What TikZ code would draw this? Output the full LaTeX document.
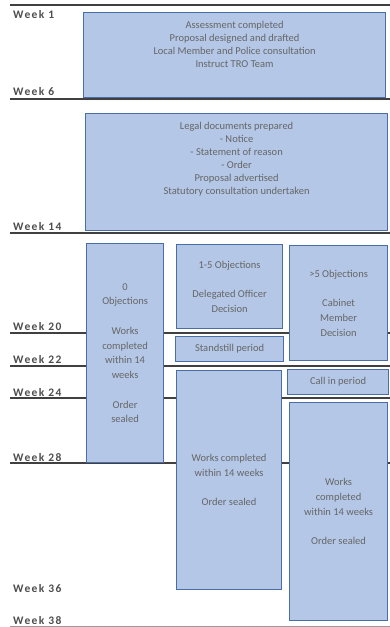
\documentclass[tikz,border=0pt]{standalone}
\usepackage{fontspec}
\setmainfont{Carlito}
\usetikzlibrary{positioning}
\definecolor{stagefill}{HTML}{B4C7E7}
\definecolor{stageline}{HTML}{4A6DA5}
\definecolor{stagetext}{HTML}{666666}
\definecolor{weektext}{HTML}{4D4D4D}
\definecolor{ruleline}{HTML}{404040}
\tikzset{%
	stage/.style    = {draw=stageline, fill=stagefill, line width=1.2pt, rectangle, anchor=north west, inner sep=2pt, align=center, text=stagetext, font=\fontsize{10.5}{13}\selectfont},
	loose/.style    = {font=\fontsize{10.5}{14.75}\selectfont}, % wider line spacing
	week/.style     = {anchor=base west, inner sep=0pt, text=weektext, font=\fontsize{11.5}{13}\selectfont\bfseries\addfontfeature{LetterSpace=12}},
	rule/.style     = {draw=ruleline, line width=1.3pt},
	lastrule/.style = {draw=gray!80, line width=1pt},
}
\begin{document}
\begin{tikzpicture}[x=1pt,y=-1pt]
	\useasboundingbox (0,0) rectangle (390,627);
	% week rules
	\coordinate (r1) at (10,5);    \coordinate (r1e) at (390,5);
	\coordinate (r6) at (10,99);   \coordinate (r6e) at (390,99);
	\coordinate (r14) at (10,233); \coordinate (r14e) at (390,233);
	\coordinate (r20) at (10,333); \coordinate (r20e) at (390,333);
	\coordinate (r22) at (10,366); \coordinate (r22e) at (390,366);
	\coordinate (r24) at (10,398); \coordinate (r24e) at (390,398);
	\coordinate (r28) at (10,463); \coordinate (r28e) at (390,463);
	\coordinate (r38) at (10,626); \coordinate (r38e) at (390,626);
	\draw[rule] (r1) -- (r1e);
	\draw[rule] (r6) -- (r6e);
	\draw[rule] (r14) -- (r14e);
	\draw[rule] (r20) -- (r20e);
	\draw[rule] (r22) -- (r22e);
	\draw[rule] (r24) -- (r24e);
	\draw[rule] (r28) -- (r28e);
	\draw[lastrule] (r38) -- (r38e);
	
	\node [week] (wk1) at (13,18.5) {Week 1};
	\node [week] (wk6) at (13,95) {Week 6};
	\node [week] (wk14) at (13,230) {Week 14};
	\node [week] (wk20) at (13,330) {Week 20};
	\node [week] (wk22) at (13,363) {Week 22};
	\node [week] (wk24) at (13,396) {Week 24};
	\node [week] (wk28) at (13,461) {Week 28};
	\node [week] (wk36) at (13,592) {Week 36};
	\node [week] (wk38) at (13,624) {Week 38};
	
	\node [stage, minimum width=302pt, minimum height=85pt] (assess) at (83,12) {Assessment completed\\Proposal designed and drafted\\Local Member and Police consultation\\Instruct TRO Team\\[9pt]\mbox{}};
	\node [stage, minimum width=302pt, minimum height=117pt] (legal) at (85,113) {Legal documents prepared\\- Notice\\- Statement of reason\\- Order\\Proposal advertised\\Statutory consultation undertaken\\[14pt]\mbox{}};
	\node [stage, loose, minimum width=77pt, minimum height=219pt] (noobj) at (86,243) {0\\Objections\\[14.75pt]Works\\completed\\within 14\\weeks\\[14.75pt]Order\\sealed};
	\node [stage, loose, minimum width=106pt, minimum height=84pt] (deleg) at (176,244) {1-5 Objections\\[14.5pt]Delegated Officer\\Decision};
	\node [stage, minimum width=108pt, minimum height=25pt] (standstill) at (175,336) {Standstill period};
	\node [stage, loose, minimum width=98pt, minimum height=115pt] (cabinet) at (289,245) {>5 Objections\\[14.75pt]Cabinet\\Member\\Decision};
	\node [stage, minimum width=101pt, minimum height=25pt] (callin) at (287,369) {Call in period};
	\node [stage, loose, minimum width=105pt, minimum height=219pt] (worksdeleg) at (176,370) {Works completed\\within 14 weeks\\[14.75pt]Order sealed};
	\node [stage, loose, minimum width=98pt, minimum height=218pt] (workscab) at (289,402) {Works\\completed\\within 14 weeks\\[14.75pt]Order sealed};
\end{tikzpicture}
\end{document}
